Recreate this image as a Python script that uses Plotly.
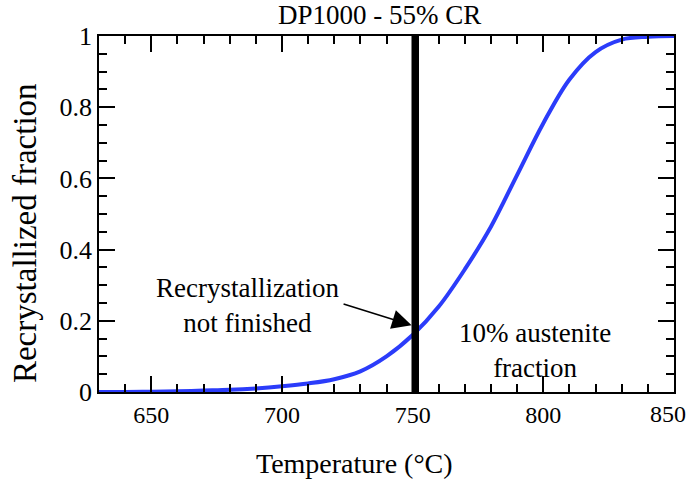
import plotly.graph_objects as go

# Data
temperature = [630, 640, 650, 660, 670, 680, 690, 700, 710, 720, 730, 740, 750,
               760, 770, 780, 790, 800, 810, 820, 830, 840, 850]
recryst_fraction = [0.000, 0.000, 0.001, 0.002, 0.004, 0.006, 0.010, 0.016, 0.024,
                    0.036, 0.058, 0.100, 0.160, 0.240, 0.345, 0.465, 0.610, 0.755,
                    0.878, 0.955, 0.990, 0.998, 1.000]
austenite_10pct_temp = 751
marker_y = [0, 1]

title_text = "DP1000 - 55% CR"
x_title = "Temperature (°C)"
y_title = "Recrystallized fraction"
x_ticks = [650, 700, 750, 800, 850]
x_tick_labels = ["650", "700", "750", "800", ""]
last_x_tick_label = "850"   # drawn nudged inward, as in the reference
y_ticks = [0, 0.2, 0.4, 0.6, 0.8, 1]
y_tick_labels = ["0", "0.2", "0.4", "0.6", "0.8", "1"]

FONT = "Liberation Serif, Times New Roman, serif"

fig = go.Figure()
fig.add_trace(go.Scatter(
    x=temperature, y=recryst_fraction, mode="lines",
    line=dict(color="#2b3cfa", width=4, shape="spline", smoothing=1.0),
    showlegend=False, hoverinfo="skip"))
fig.add_trace(go.Scatter(
    x=[austenite_10pct_temp, austenite_10pct_temp], y=marker_y, mode="lines",
    line=dict(color="black", width=7.5), showlegend=False, hoverinfo="skip"))

axis_common = dict(
    showline=True, linecolor="black", linewidth=1.5, mirror="allticks",
    ticks="inside", ticklen=16, tickwidth=1.5, tickcolor="black",
    showgrid=False, zeroline=False, automargin=False,
)

fig.update_xaxes(range=[630, 850], tickvals=x_ticks, ticktext=x_tick_labels,
                 tickfont=dict(family=FONT, size=24, color="black"),
                 minor=dict(dtick=10, tick0=0, ticks="inside", ticklen=8,
                            tickwidth=1.5, tickcolor="black", showgrid=False),
                 **axis_common)
fig.update_yaxes(range=[0, 1], tickvals=y_ticks, ticktext=y_tick_labels,
                 tickfont=dict(family=FONT, size=26, color="black"),
                 minor=dict(dtick=0.05, tick0=0, ticks="inside", ticklen=8,
                            tickwidth=1.5, tickcolor="black", showgrid=False),
                 **axis_common)

annotations = [
    dict(text=title_text, xref="paper", yref="paper", x=0.487, y=1.059,
         xanchor="center", yanchor="middle", showarrow=False,
         font=dict(family=FONT, size=27, color="black")),
    dict(text=x_title, xref="paper", yref="paper", x=0.445, y=-0.2,
         xanchor="center", yanchor="middle", showarrow=False,
         font=dict(family=FONT, size=28, color="black")),
    dict(text=y_title, xref="paper", yref="paper", x=-0.129, y=0.446,
         xanchor="center", yanchor="middle", textangle=-90, showarrow=False,
         font=dict(family=FONT, size=33, color="black")),
    dict(text=last_x_tick_label, xref="x", yref="paper", x=x_ticks[-1] - 2.4,
         y=-0.062, xanchor="center", yanchor="middle", showarrow=False,
         font=dict(family=FONT, size=24, color="black")),
    dict(text="Recrystallization<br>not finished", xref="x", yref="y",
         x=687, y=0.244, xanchor="center", yanchor="middle", showarrow=False,
         font=dict(family=FONT, size=27, color="black")),
    dict(text="10% austenite<br>fraction", xref="x", yref="y",
         x=796.8, y=0.117, xanchor="center", yanchor="middle", showarrow=False,
         font=dict(family=FONT, size=27, color="black")),
    dict(text="", xref="x", yref="y", x=749.6, y=0.1875,
         axref="x", ayref="y", ax=723, ay=0.2485, showarrow=True,
         arrowhead=2, arrowsize=2.6, arrowwidth=1.5, arrowcolor="black"),
]

fig.update_layout(
    width=688, height=480, autosize=False,
    margin=dict(l=99, r=14, t=36, b=88),
    paper_bgcolor="white", plot_bgcolor="white",
    annotations=annotations,
    font=dict(family=FONT, color="black"),
)

fig.write_html(
    "out.html",
    config={"displayModeBar": False, "responsive": False},
    post_script="document.body.style.margin='0';document.body.style.overflow='hidden';",
)
